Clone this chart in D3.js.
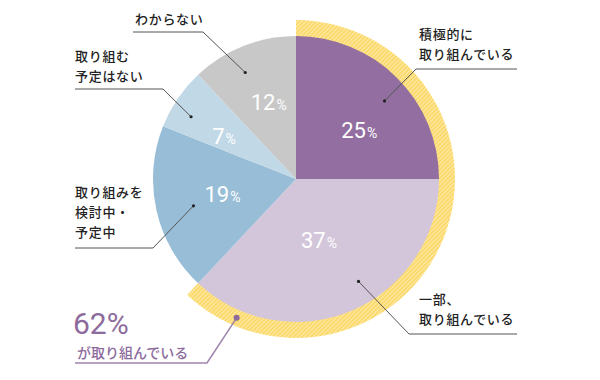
<!DOCTYPE html>
<html><head><meta charset="utf-8">
<script src="https://cdn.jsdelivr.net/npm/d3@7"></script>
<style>body{margin:0;background:#fff}</style></head><body>
<svg id="c" width="600" height="380"></svg>
<script>
// ---- data ----
const categories = ["積極的に取り組んでいる","一部、取り組んでいる","取り組みを検討中・予定中","取り組む予定はない","わからない"];
const values = [25, 37, 19, 7, 12];
const colors = ["#936ea0", "#d3c6da", "#98bed7", "#c1d8e6", "#c8c8c8"];
const labelLines = [["積極的に","取り組んでいる"],["一部、","取り組んでいる"],["取り組みを","検討中・","予定中"],["取り組む","予定はない"],["わからない"]];
const totalLabel = "62%";
const totalText = "が取り組んでいる";
const highlightSlices = 2;

// ---- layout ----
const cx = 296, cy = 179, R = 143, ringR = 159;
const pctT = [0.58, 0.52, 0.52, 0.37, 0.55], pctR = [80, 65, 75, 84, 82];
const leadT = [0.54, 0.44, 0.47, 0.36, 0.41], leadR = [118, 120, 106, 122, 118];
const elbows = [[416,69,517],[409,334,517],[153,248,75],[163,89,75],[203,32,133]];
const textPos = [[419,33],[419,298],[75,191],[75,55],[135,18]];

const svg = d3.select("#c");
const defs = svg.append("defs");
const pat = defs.append("pattern").attr("id","hatch").attr("patternUnits","userSpaceOnUse")
  .attr("width",3).attr("height",3).attr("patternTransform","rotate(45)");
pat.append("rect").attr("width",3).attr("height",3).attr("fill","#fbd867");
pat.append("rect").attr("width",1.2).attr("height",3).attr("fill","#feeaa8");

const g = svg.append("g").attr("transform",`translate(${cx},${cy})`);
const pie = d3.pie().sort(null).value(d=>d)(values);
const arc = d3.arc().innerRadius(0).outerRadius(R);

// highlight ring
g.append("path").attr("d", d3.arc()({innerRadius:R-1, outerRadius:ringR, startAngle:0, endAngle:pie[highlightSlices-1].endAngle}))
  .attr("fill","url(#hatch)");

g.selectAll("path.slice").data(pie).join("path").attr("class","slice")
  .attr("d", arc).attr("fill",(d,i)=>colors[i]);

function polar(a, r){ return [Math.sin(a)*r, -Math.cos(a)*r]; }

// percent labels
pie.forEach((d,i)=>{
  const a = d.startAngle + (d.endAngle-d.startAngle)*pctT[i];
  const [x,y] = polar(a, pctR[i]);
  const t = g.append("text").attr("x",x).attr("y",y+8).attr("text-anchor","middle")
    .attr("fill","#fff").attr("font-family","Roboto, 'DejaVu Sans', sans-serif").attr("font-weight",400);
  t.append("tspan").attr("font-size",22).text(values[i]);
  t.append("tspan").attr("font-size",14).attr("dx",1).text("%");
});

// leaders
pie.forEach((d,i)=>{
  const a = d.startAngle + (d.endAngle-d.startAngle)*leadT[i];
  const [x,y] = polar(a, leadR[i]);
  const px = x+cx, py = y+cy;
  const [ex,ey,endx] = elbows[i];
  svg.append("polyline").attr("points",`${px},${py} ${ex},${ey} ${endx},${ey}`)
    .attr("fill","none").attr("stroke","#555").attr("stroke-width",1);
  svg.append("circle").attr("cx",px).attr("cy",py).attr("r",1.6).attr("fill","#222");
  const [tx,ty] = textPos[i];
  labelLines[i].forEach((s,k)=>{
    svg.append("text").attr("x",tx).attr("y",ty+k*20).attr("dominant-baseline","central")
      .attr("font-family","'Noto Sans CJK JP', sans-serif").attr("font-size",13).attr("font-weight",500)
      .attr("letter-spacing",0.7).attr("fill","#222").text(s);
  });
});

// total annotation
const aT = pie[highlightSlices-1].endAngle - 0.35;
const [dx,dy] = polar(aT, (R+ringR)/2);
svg.append("polyline").attr("points",`${dx+cx},${dy+cy} 207,363 75,363`)
  .attr("fill","none").attr("stroke","#a084ad").attr("stroke-width",1.5);
svg.append("circle").attr("cx",dx+cx).attr("cy",dy+cy).attr("r",3).attr("fill","#8c6a9c");
svg.append("text").attr("x",73).attr("y",334).attr("font-family","Roboto, sans-serif").attr("font-weight",400)
  .attr("font-size",30).attr("fill","#8d6b9d").text(totalLabel);
svg.append("text").attr("x",77).attr("y",352).attr("dominant-baseline","central")
  .attr("font-family","'Noto Sans CJK JP', sans-serif").attr("font-size",14).attr("font-weight",500)
  .attr("fill","#8d6b9d").text(totalText);
</script></body></html>
